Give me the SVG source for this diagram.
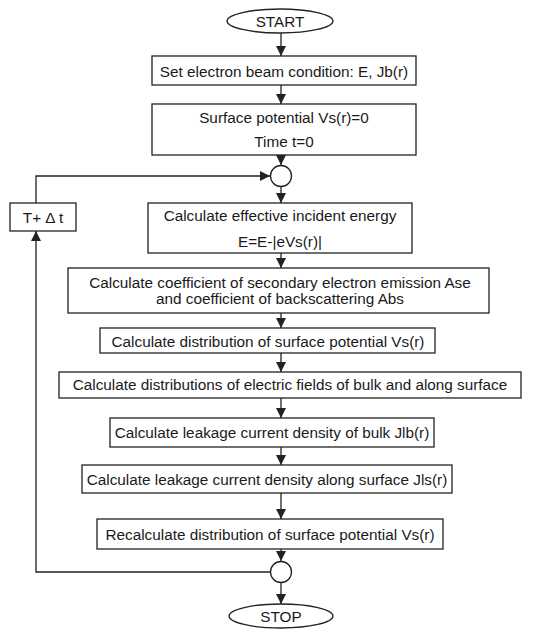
<svg xmlns="http://www.w3.org/2000/svg" width="537" height="630" viewBox="0 0 537 630">
<style>
.b{fill:#fff;stroke:#222;stroke-width:1.3}
.t{font-family:"Liberation Sans",Arial,sans-serif;font-size:15.3px;fill:#1a1a1a;text-anchor:middle}
.c{fill:none;stroke:#222;stroke-width:1.3}
</style>
<defs>
<marker id="a" viewBox="0 0 10 10" refX="10" refY="5" markerWidth="10" markerHeight="10" markerUnits="userSpaceOnUse" orient="auto">
<path d="M0,0 L10,5 L0,10 Z" fill="#222"/>
</marker>
</defs>
<rect width="537" height="630" fill="#fff"/>
<g id="connectors">
<path class="c" d="M281,33 V56" marker-end="url(#a)"/>
<path class="c" d="M281,85 V104" marker-end="url(#a)"/>
<path class="c" d="M281,155 V165" marker-end="url(#a)"/>
<path class="c" d="M36,203 V176 H270" marker-end="url(#a)"/>
<path class="c" d="M281,186 V203" marker-end="url(#a)"/>
<path class="c" d="M281,253 V268" marker-end="url(#a)"/>
<path class="c" d="M281,313 V328" marker-end="url(#a)"/>
<path class="c" d="M281,353 V372" marker-end="url(#a)"/>
<path class="c" d="M281,398 V418" marker-end="url(#a)"/>
<path class="c" d="M281,447 V465" marker-end="url(#a)"/>
<path class="c" d="M281,493 V519" marker-end="url(#a)"/>
<path class="c" d="M281,549 V561" marker-end="url(#a)"/>
<path class="c" d="M271,572 H36 V231" marker-end="url(#a)"/>
<path class="c" d="M281,582 V604" marker-end="url(#a)"/>
</g>
<g id="start"><ellipse class="b" cx="280" cy="21" rx="53" ry="12"/><text class="t" x="280" y="27">START</text></g>
<g id="n1"><rect class="b" x="152" y="56" width="264" height="29"/><text class="t" x="284" y="77">Set electron beam condition: E, Jb(r)</text></g>
<g id="n2"><rect class="b" x="152" y="104" width="264" height="51"/><text class="t" x="284" y="123">Surface potential Vs(r)=0</text><text class="t" x="284" y="147">Time t=0</text></g>
<g id="j1"><circle class="b" cx="281" cy="176" r="10.5"/></g>
<g id="dt"><rect class="b" x="10" y="203" width="66" height="28"/><text class="t" x="43" y="223">T+ Δ t</text></g>
<g id="n3"><rect class="b" x="148" y="203" width="264" height="50"/><text class="t" x="280" y="221">Calculate effective incident energy</text><text class="t" x="280" y="247">E=E-|eVs(r)|</text></g>
<g id="n4"><rect class="b" x="68" y="268" width="421" height="45"/><text class="t" x="280" y="288">Calculate coefficient of secondary electron emission Ase</text><text class="t" x="280" y="304">and coefficient of backscattering Abs</text></g>
<g id="n5"><rect class="b" x="100" y="328" width="335" height="25"/><text class="t" x="268" y="347">Calculate distribution of surface potential Vs(r)</text></g>
<g id="n6"><rect class="b" x="59" y="372" width="462" height="26"/><text class="t" x="290" y="390">Calculate distributions of electric fields of bulk and along surface</text></g>
<g id="n7"><rect class="b" x="110" y="418" width="324" height="29"/><text class="t" x="272" y="438">Calculate leakage current density of bulk Jlb(r)</text></g>
<g id="n8"><rect class="b" x="82" y="465" width="370" height="28"/><text class="t" x="267" y="485">Calculate leakage current density along surface Jls(r)</text></g>
<g id="n9"><rect class="b" x="97" y="519" width="346" height="30"/><text class="t" x="270" y="540">Recalculate distribution of surface potential Vs(r)</text></g>
<g id="j2"><circle class="b" cx="281" cy="572" r="10.5"/></g>
<g id="stop"><ellipse class="b" cx="281" cy="616" rx="52" ry="12"/><text class="t" x="281" y="622">STOP</text></g>
</svg>
